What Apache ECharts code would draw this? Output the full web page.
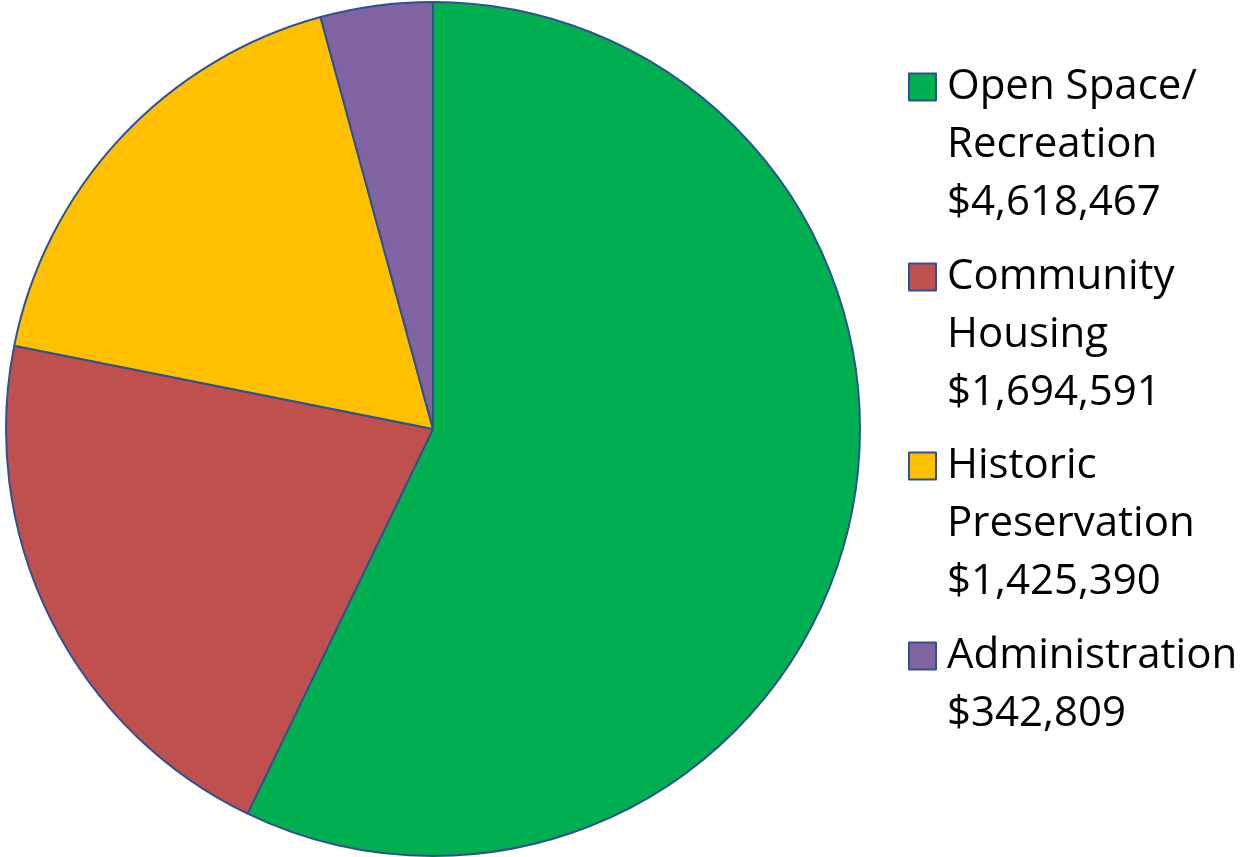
<!DOCTYPE html>
<html>
<head>
<meta charset="utf-8">
<script src="https://cdn.jsdelivr.net/npm/echarts@6/dist/echarts.min.js"></script>
<style>
  html, body { margin: 0; padding: 0; background: #fff; }
  #chart { width: 1240px; height: 857px; }
</style>
</head>
<body>
<div id="chart"></div>
<script>
const categories = ['Open Space/\nRecreation', 'Community\nHousing', 'Historic\nPreservation', 'Administration']
const values = [4618467, 1694591, 1425390, 342809]
const colors = ['#00B050', '#C0504D', '#FFC000', '#8064A2']

const lineH = 58
const legendCenters = [87, 277, 466, 656]

const chart = echarts.init(document.getElementById('chart'))

const fmt = v => '$' + v.toLocaleString('en-US')

// one legend per item; blank lines in front so the marker sits by the first line
const legends = categories.map((name, i) => {
  const n = name.split('\n').length + 1
  return {
    orient: 'vertical',
    left: 908,
    top: legendCenters[i] - (2 * n - 1) * lineH / 2,
    padding: 0,
    itemWidth: 27,
    itemHeight: 27,
    icon: 'rect',
    selectedMode: false,
    data: [name],
    formatter: nm => '\n'.repeat(n - 1) + nm + '\n' + fmt(values[categories.indexOf(nm)]),
    textStyle: {
      fontFamily: 'Open Sans',
      fontSize: 42,
      color: '#000',
      lineHeight: lineH,
      padding: [0, 0, 0, 6],
    },
  }
})

chart.setOption({
  animation: false,
  color: colors,
  legend: legends,
  series: [
    {
      type: 'pie',
      center: [433, 429],
      radius: 427,
      startAngle: 90,
      clockwise: true,
      label: { show: false },
      labelLine: { show: false },
      itemStyle: { borderColor: '#2F528F', borderWidth: 2 },
      emphasis: { disabled: true },
      data: categories.map((name, i) => ({ name: name, value: values[i] })),
    },
  ],
})
</script>
</body>
</html>
